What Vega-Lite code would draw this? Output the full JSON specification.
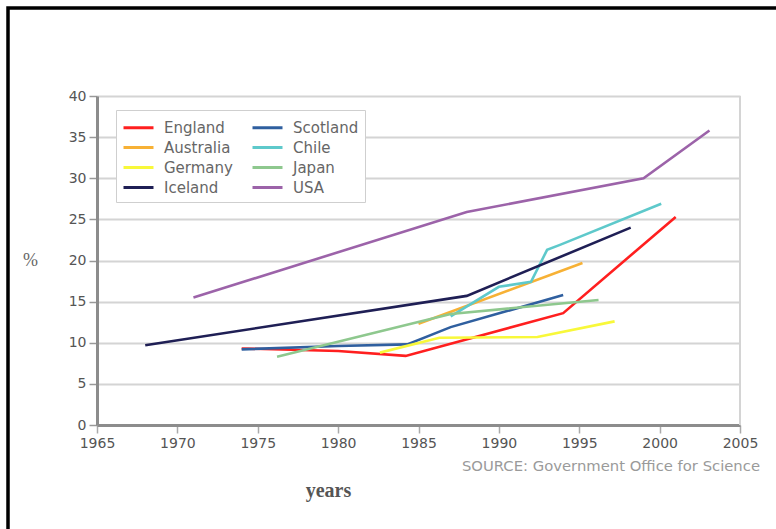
{
  "$schema": "https://vega.github.io/schema/vega-lite/v6.json",
  "width": 773,
  "height": 526,
  "autosize": {"type": "none"},
  "padding": {"left": 8, "top": 8, "right": -5, "bottom": -5},
  "background": "white",
  "title": {
    "text": "SOURCE: Government Office for Science",
    "orient": "top",
    "anchor": "end",
    "frame": "group",
    "font": "DejaVu Sans",
    "fontSize": 14.8,
    "fontWeight": "normal",
    "color": "#9a9a9a",
    "dx": -21,
    "dy": 470
  },
  "config": {
    "view": {"stroke": "#000000", "strokeWidth": 3.5}
  },
  "data": {
    "values": [
      {"country": "England", "year": 1974, "value": 9.3},
      {"country": "England", "year": 1980, "value": 9.0},
      {"country": "England", "year": 1984.2, "value": 8.4},
      {"country": "England", "year": 1994, "value": 13.6},
      {"country": "England", "year": 2001, "value": 25.3},
      {"country": "Scotland", "year": 1974, "value": 9.2},
      {"country": "Scotland", "year": 1980, "value": 9.6},
      {"country": "Scotland", "year": 1984.3, "value": 9.8},
      {"country": "Scotland", "year": 1987, "value": 11.9},
      {"country": "Scotland", "year": 1994, "value": 15.8},
      {"country": "Australia", "year": 1985, "value": 12.3},
      {"country": "Australia", "year": 1995.2, "value": 19.7},
      {"country": "Chile", "year": 1987, "value": 13.2},
      {"country": "Chile", "year": 1990, "value": 16.8},
      {"country": "Chile", "year": 1992, "value": 17.4},
      {"country": "Chile", "year": 1993, "value": 21.3},
      {"country": "Chile", "year": 1993.8, "value": 21.9},
      {"country": "Chile", "year": 2000.1, "value": 26.9},
      {"country": "Germany", "year": 1982.6, "value": 8.8},
      {"country": "Germany", "year": 1986.3, "value": 10.6},
      {"country": "Germany", "year": 1992.4, "value": 10.7},
      {"country": "Germany", "year": 1997.2, "value": 12.6},
      {"country": "Japan", "year": 1976.2, "value": 8.3},
      {"country": "Japan", "year": 1987, "value": 13.5},
      {"country": "Japan", "year": 1996.2, "value": 15.2},
      {"country": "Iceland", "year": 1968, "value": 9.7},
      {"country": "Iceland", "year": 1988, "value": 15.7},
      {"country": "Iceland", "year": 1998.2, "value": 24.0},
      {"country": "USA", "year": 1971, "value": 15.5},
      {"country": "USA", "year": 1988, "value": 25.9},
      {"country": "USA", "year": 1999, "value": 30.0},
      {"country": "USA", "year": 2003.1, "value": 35.8}
    ]
  },
  "layer": [
    {
      "mark": {"type": "rule", "color": "#d4d4d4", "strokeWidth": 2},
      "encoding": {
        "x": {"datum": 2005, "type": "quantitative"},
        "y": {"datum": 0, "type": "quantitative"},
        "y2": {"datum": 40}
      }
    },
    {
      "mark": {"type": "line", "strokeWidth": 2.6},
      "encoding": {
        "x": {
          "field": "year",
          "type": "quantitative",
          "scale": {"domain": [1965, 2005], "range": [89, 732], "nice": false, "zero": false},
          "axis": {
            "values": [1965, 1970, 1975, 1980, 1985, 1990, 1995, 2000, 2005],
            "format": "d",
            "offset": -109,
            "domainColor": "#8c8c8c",
            "domainWidth": 3,
            "tickColor": "#aaaaaa",
            "tickWidth": 1.5,
            "tickSize": 8,
            "labelFont": "DejaVu Sans",
            "labelFontSize": 14,
            "labelColor": "#555555",
            "labelPadding": 3,
            "labelFlush": false,
            "labelOverlap": false,
            "grid": false,
            "title": "years",
            "titleFont": "Liberation Serif",
            "titleFontSize": 20,
            "titleFontWeight": "bold",
            "titleColor": "#555555",
            "titleX": 320,
            "titleY": 65,
            "titleAlign": "center",
            "titleBaseline": "middle"
          }
        },
        "y": {
          "field": "value",
          "type": "quantitative",
          "scale": {"domain": [0, 40], "range": [417, 88], "nice": false},
          "axis": {
            "values": [0, 5, 10, 15, 20, 25, 30, 35, 40],
            "offset": -89,
            "domainColor": "#8c8c8c",
            "domainWidth": 3,
            "tickColor": "#999999",
            "tickWidth": 1.5,
            "tickSize": 8,
            "labelFont": "DejaVu Sans",
            "labelFontSize": 14,
            "labelColor": "#555555",
            "labelPadding": 3,
            "grid": true,
            "gridColor": "#d4d4d4",
            "gridWidth": 2,
            "title": "%",
            "titleFont": "Liberation Serif",
            "titleFontSize": 18,
            "titleFontWeight": "normal",
            "titleColor": "#666666",
            "titleAngle": 0,
            "titleX": -67,
            "titleY": 252,
            "titleAlign": "center",
            "titleBaseline": "middle"
          }
        },
        "color": {
          "field": "country",
          "type": "nominal",
          "scale": {
            "domain": ["England", "Australia", "Germany", "Iceland", "Scotland", "Chile", "Japan", "USA"],
            "range": ["#ff1f1f", "#f7b135", "#f8f83a", "#1f1f55", "#2f5f9f", "#5ec9cb", "#8ec88e", "#9c63a9"]
          },
          "legend": {
            "orient": "none",
            "legendX": 108,
            "legendY": 102,
            "columns": 2,
            "title": null,
            "symbolType": "M-1,0H2",
            "symbolSize": 400,
            "symbolStrokeWidth": 3,
            "labelFont": "DejaVu Sans",
            "labelFontSize": 15,
            "labelColor": "#666666",
            "labelOffset": 19,
            "rowPadding": 0,
            "columnPadding": 13,
            "padding": 6,
            "strokeColor": "#cfcfcf",
            "fillColor": "#ffffff"
          }
        }
      }
    }
  ]
}
